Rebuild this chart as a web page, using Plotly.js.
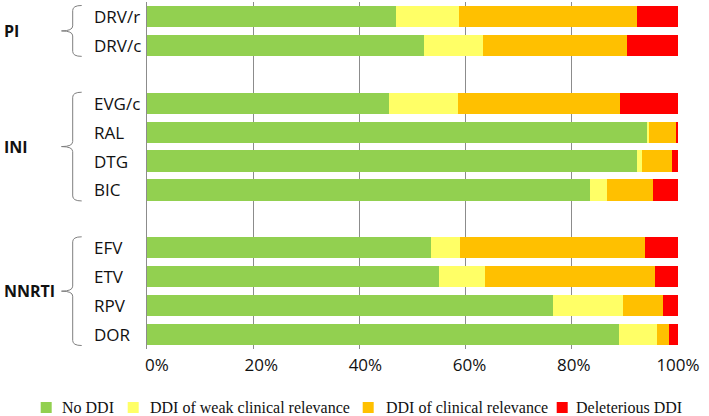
<!DOCTYPE html>
<html>
<head>
<meta charset="utf-8">
<script src="https://cdn.plot.ly/plotly-3.0.1.min.js"></script>
<style>html,body{margin:0;padding:0;background:#fff;}</style>
</head>
<body>
<div id="chart" style="width:709px;height:416px;"></div>
<script>
// ---- data ----
const groups = ['PI', 'INI', 'NNRTI'];
const groupDrugs = [
  ['DRV/r', 'DRV/c'],
  ['EVG/c', 'RAL', 'DTG', 'BIC'],
  ['EFV', 'ETV', 'RPV', 'DOR']
];
const drugs = ['DRV/r', 'DRV/c', 'EVG/c', 'RAL', 'DTG', 'BIC', 'EFV', 'ETV', 'RPV', 'DOR'];
const seriesNames = ['No DDI', 'DDI of weak clinical relevance', 'DDI of clinical relevance', 'Deleterious DDI'];
const noDDI       = [46.9, 52.2, 45.5, 94.2, 92.3, 83.5, 53.5, 55.0, 76.5, 88.9];
const weakDDI     = [11.8, 11.1, 13.0,  0.3,  0.9,  3.1,  5.5,  8.7, 13.1,  7.1];
const clinicalDDI = [33.6, 27.1, 30.6,  5.1,  5.6,  8.6, 34.8, 31.9,  7.5,  2.3];
const deleteriousDDI = [7.7, 9.6, 10.9, 0.4, 1.2, 4.8, 6.2, 4.4, 2.9, 1.7];
const xTickVals = [0, 20, 40, 60, 80, 100];
const xTickText = ['0%', '20%', '40%', '60%', '80%', '100%'];

// ---- styling ----
const colors = ['#92D050', '#FFFF66', '#FFC000', '#FF0000'];
const sans = 'Open Sans, Lato, DejaVu Sans, sans-serif';
const serif = 'Liberation Serif, Times New Roman, serif';
const gridColor = '#8c8c8c';

// category list with blank separator slots between groups
const cats = [];
groupDrugs.forEach((g, gi) => {
  if (gi > 0) cats.push('gap' + gi);
  g.forEach(d => cats.push(d));
});
const nCat = cats.length;

const seriesVals = [noDDI, weakDDI, clinicalDDI, deleteriousDDI];
const traces = seriesVals.map((vals, si) => ({
  type: 'bar',
  orientation: 'h',
  name: seriesNames[si],
  y: drugs,
  x: vals,
  marker: { color: colors[si], line: { width: 0 } },
  showlegend: false,
  hoverinfo: 'x+y'
}));
// dummy trace so the label axis exists
traces.push({ type: 'scatter', mode: 'markers', x: [null], y: [cats[0]], xaxis: 'x2', yaxis: 'y', showlegend: false, hoverinfo: 'skip' });

// pixel helpers for decorations (plot area geometry)
const L = 147, R = 31, T = 2, B = 67, FW = 709, FH = 416;
const W = FW - L - R, H = FH - T - B;
const px = v => (v - L) / W;
const py = v => (T + H - v) / H;
const idxPx = i => T + (i + 0.5) * H / nCat;

const annotations = [];
const shapes = [];

// drug labels (left aligned)
drugs.forEach(d => {
  annotations.push({
    xref: 'paper', yref: 'y', x: px(91.5), y: d, xanchor: 'left', yanchor: 'middle',
    text: d, showarrow: false, font: { family: sans, size: 17, color: '#111' }
  });
});

// group labels and braces
groupDrugs.forEach((g, gi) => {
  const a = cats.indexOf(g[0]);
  const b = cats.indexOf(g[g.length - 1]);
  const top = idxPx(a - 0.38), bot = idxPx(b + 0.38), mid = idxPx((a + b) / 2);
  const xv = 72.7, xh = 81.7, xt = 61.5, r = 5;
  const P = (x, y) => px(x).toFixed(5) + ',' + py(y).toFixed(5);
  const path = 'M' + P(xh, top) + ' Q' + P(xv, top) + ' ' + P(xv, top + r) +
    ' L' + P(xv, mid - r) + ' Q' + P(xv, mid) + ' ' + P(xt, mid) +
    ' Q' + P(xv, mid) + ' ' + P(xv, mid + r) +
    ' L' + P(xv, bot - r) + ' Q' + P(xv, bot) + ' ' + P(xh, bot);
  shapes.push({ type: 'path', xref: 'paper', yref: 'paper', path: path, line: { color: '#7f7f7f', width: 1 } });
  annotations.push({
    xref: 'paper', yref: 'paper', x: px(2), y: py(mid), xanchor: 'left', yanchor: 'middle',
    text: '<b>' + groups[gi] + '</b>', showarrow: false, font: { family: sans, size: 16, color: '#111' }
  });
});

// legend (manual, matching reference spacing)
const legSquareX = [40.7, 127.7, 362.7, 556.7];
const legTextX = [60, 147.5, 384, 574];
const legY = 407.5, sq = 11;
seriesNames.forEach((n, i) => {
  shapes.push({
    type: 'rect', xref: 'paper', yref: 'paper',
    x0: px(legSquareX[i]), x1: px(legSquareX[i] + sq), y0: py(legY - sq / 2), y1: py(legY + sq / 2),
    fillcolor: colors[i], line: { width: 0 }
  });
  annotations.push({
    xref: 'paper', yref: 'paper', x: px(legTextX[i]), y: py(legY), xanchor: 'left', yanchor: 'middle',
    text: n, showarrow: false, font: { family: serif, size: 16, color: '#111' }
  });
});

const layout = {
  width: FW, height: FH,
  margin: { l: L, r: R, t: T, b: B, pad: 0 },
  paper_bgcolor: '#fff', plot_bgcolor: 'rgba(0,0,0,0)',
  barmode: 'stack', bargap: 0.27,
  showlegend: false,
  xaxis: {
    range: [0, 100], tickmode: 'array', tickvals: xTickVals, showticklabels: false, ticks: '',
    showgrid: true, gridcolor: gridColor, gridwidth: 1, zeroline: false, showline: false, fixedrange: true
  },
  xaxis2: {
    domain: [px(157), 1], anchor: 'y', range: [0, 100], tickmode: 'array',
    tickvals: xTickVals, ticktext: xTickText,
    showgrid: false, zeroline: false, showline: false, ticks: '', ticklabelstandoff: 4,
    tickfont: { family: sans, size: 17, color: '#111' }, fixedrange: true
  },
  yaxis: {
    type: 'category', categoryorder: 'array', categoryarray: cats,
    range: [nCat - 0.5, -0.5], showticklabels: false, ticks: '', showgrid: false,
    zeroline: false, showline: true, linecolor: gridColor, linewidth: 1, fixedrange: true
  },
  annotations: annotations,
  shapes: shapes
};

Plotly.newPlot('chart', traces, layout, { displayModeBar: false, staticPlot: true });
</script>
</body>
</html>
